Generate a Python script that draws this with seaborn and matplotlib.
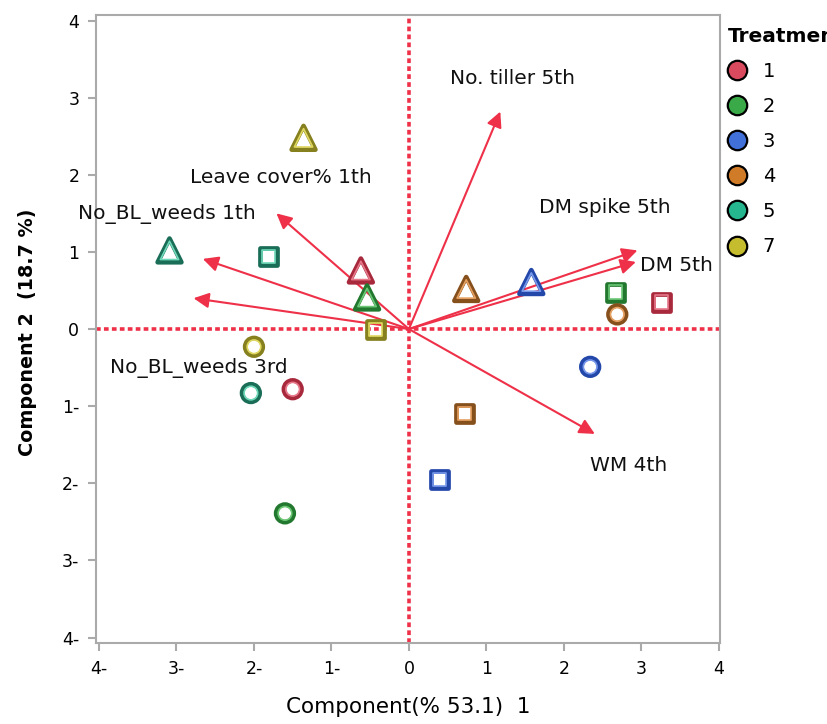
import matplotlib
matplotlib.use("Agg")
import matplotlib.pyplot as plt
from matplotlib.lines import Line2D
import seaborn as sns
import pandas as pd

# Sample scores: each treatment appears once per marker set
treatment = ["5", "7", "1", "2", "4", "3",
             "5", "7", "2", "1", "4", "3",
             "7", "5", "1", "2", "4", "3"]
marker_set = ["tri"] * 6 + ["sq"] * 6 + ["circ"] * 6
comp1 = [-3.09, -1.36, -0.62, -0.54, 0.74, 1.58,
         -1.81, -0.43, 2.67, 3.26, 0.72, 0.39,
         -2.00, -2.04, -1.50, -1.60, 2.69, 2.34]
comp2 = [1.02, 2.48, 0.76, 0.41, 0.52, 0.61,
         0.94, -0.01, 0.48, 0.35, -1.09, -1.95,
         -0.23, -0.83, -0.78, -2.39, 0.19, -0.49]

# Variable loadings (arrow tips)
variables = ["No. tiller 5th", "Leave cover% 1th", "No_BL_weeds 1th",
             "No_BL_weeds 3rd", "DM spike 5th", "DM 5th", "WM 4th"]
load1 = [1.18, -1.71, -2.66, -2.78, 2.95, 2.93, 2.40]
load2 = [2.82, 1.50, 0.91, 0.40, 1.02, 0.87, -1.36]

treatment_order = ["1", "2", "3", "4", "5", "7"]
tick_values = [-4, -3, -2, -1, 0, 1, 2, 3, 4]
tick_labels = ["4-", "3-", "2-", "1-", "0", "1", "2", "3", "4"]

fill_colors = {"1": "#d94a5e", "2": "#3aaa48", "3": "#4070d8",
               "4": "#d07b28", "5": "#25b58f", "7": "#c6bd2e"}
dark_colors = {"1": "#a8283c", "2": "#23782f", "3": "#2348aa",
               "4": "#86501c", "5": "#1a6d57", "7": "#86801e"}
light_colors = {"1": "#e6788a", "2": "#6cc776", "3": "#7898ea",
                "4": "#e6a060", "5": "#6ed8b8", "7": "#e0d860"}
marker_map = {"tri": "^", "sq": "s", "circ": "o"}
size_map = {"tri": 290, "sq": 150, "circ": 160}

df = pd.DataFrame({"Treatment": treatment, "Set": marker_set,
                   "Component 1": comp1, "Component 2": comp2})

sns.set_theme(style="white")
plt.rcParams["font.family"] = ["DejaVu Sans"]
plt.rcParams["text.color"] = "black"
plt.rcParams["axes.labelcolor"] = "black"

fig = plt.figure(figsize=(8.27, 7.24), dpi=100)
ax = fig.add_axes([0.116, 0.112, 0.755, 0.867])

red = "#ee3048"
ax.axhline(0, color=red, lw=2.6, ls=(0, (1.3, 0.9)), zorder=1)
ax.axvline(0, color=red, lw=2.6, ls=(0, (1.3, 0.9)), zorder=1)

# Loading arrows and their labels
label_pos = {
    "No. tiller 5th": (1.34, 3.25),
    "Leave cover% 1th": (-1.65, 1.97),
    "No_BL_weeds 1th": (-3.13, 1.49),
    "No_BL_weeds 3rd": (-2.71, -0.50),
    "DM spike 5th": (2.53, 1.57),
    "DM 5th": (3.45, 0.83),
    "WM 4th": (2.83, -1.77),
}
for name, lx, ly in zip(variables, load1, load2):
    ax.annotate("", xy=(lx, ly), xytext=(0, 0),
                arrowprops=dict(arrowstyle="-|>", color=red, lw=1.5,
                                mutation_scale=23, shrinkA=0, shrinkB=0),
                zorder=2)
    tx, ty = label_pos[name]
    ax.text(tx, ty, name, ha="center", va="center", fontsize=14.5,
            color="#111111", zorder=4)

# Hollow markers: dark outer ring, lighter inner ring
for s in ["tri", "sq", "circ"]:
    sub = df[df["Set"] == s]
    sns.scatterplot(data=sub, x="Component 1", y="Component 2",
                    hue="Treatment", palette=dark_colors,
                    marker=marker_map[s], s=size_map[s], linewidth=3.4,
                    legend=False, ax=ax, zorder=3)
    coll = ax.collections[-1]
    coll.set_edgecolors([dark_colors[t] for t in sub["Treatment"]])
    coll.set_facecolors("none")
    sns.scatterplot(data=sub, x="Component 1", y="Component 2",
                    hue="Treatment", palette=light_colors,
                    marker=marker_map[s], s=size_map[s] * 0.6, linewidth=1.2,
                    legend=False, ax=ax, zorder=3)
    coll = ax.collections[-1]
    coll.set_edgecolors([light_colors[t] for t in sub["Treatment"]])
    coll.set_facecolors("none")

ax.set_xlim(-4.04, 4.02)
ax.set_ylim(-4.07, 4.07)
ax.set_xticks(tick_values)
ax.set_xticklabels(tick_labels)
ax.set_yticks(tick_values)
ax.set_yticklabels(tick_labels)

grey = "#aaaaaa"
for sp in ax.spines.values():
    sp.set_visible(True)
    sp.set_color(grey)
    sp.set_linewidth(1.5)
ax.tick_params(axis="both", which="major", length=6, width=1.5, color=grey,
               labelsize=12.5, labelcolor="black", direction="out",
               bottom=True, left=True, pad=6)
for t, v in zip(ax.xaxis.get_major_ticks(), tick_values):
    if v == 0:
        t.tick1line.set_color(red)
for t, v in zip(ax.yaxis.get_major_ticks(), tick_values):
    if v == 0:
        t.tick1line.set_color(red)

ax.set_xlabel("Component(% 53.1)  1", fontsize=15.5, labelpad=14)
ax.set_ylabel("Component 2  (18.7 %)", fontsize=13.8, fontweight="bold")
ax.yaxis.set_label_coords(-0.0945, 0.495)

handles = [Line2D([0], [0], marker="o", ls="", markersize=14,
                  markerfacecolor=fill_colors[t], markeredgecolor="black",
                  markeredgewidth=1.6, label=t) for t in treatment_order]
leg = fig.legend(handles=handles, title="Treatment", loc="upper left",
                 bbox_to_anchor=(0.8705, 0.974), frameon=False,
                 fontsize=14, title_fontsize=14.5, labelspacing=0.83,
                 handletextpad=0.8, borderaxespad=0, alignment="left",
                 handlelength=1.0)
leg.get_title().set_fontweight("bold")
leg.get_title().set_color("black")
for txt in leg.get_texts():
    txt.set_color("black")

fig.savefig("out.png", dpi=100)
